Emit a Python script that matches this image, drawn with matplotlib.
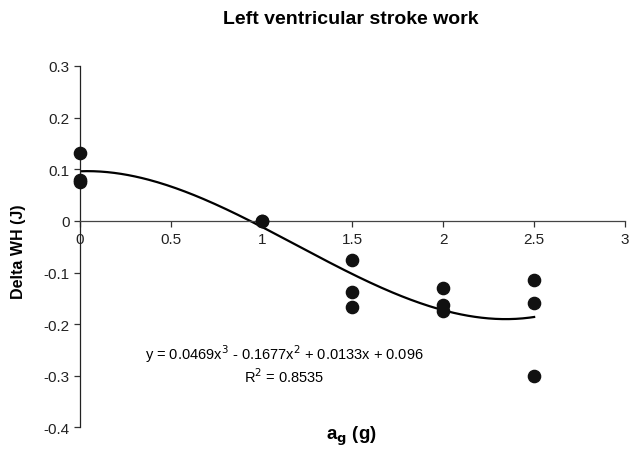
import numpy as np
import matplotlib.pyplot as plt

plt.rcParams['font.family'] = ['Liberation Sans', 'DejaVu Sans']

# measured points
ag = [0, 0, 0, 1, 1, 1.5, 1.5, 1.5, 2, 2, 2, 2.5, 2.5, 2.5]
delta_wh = [0.131, 0.08, 0.075, 0.0, 0.0, -0.075, -0.137, -0.166,
            -0.130, -0.162, -0.174, -0.115, -0.159, -0.300]

# cubic trendline coefficients (highest power first)
coef = [0.0469, -0.1677, 0.0133, 0.096]
r2 = 0.8535

xticks = [0, 0.5, 1, 1.5, 2, 2.5, 3]
xlabels = ['0', '0.5', '1', '1.5', '2', '2.5', '3']
yticks = [-0.4, -0.3, -0.2, -0.1, 0, 0.1, 0.2, 0.3]
ylabels = ['-0.4', '-0.3', '-0.2', '-0.1', '0', '0.1', '0.2', '0.3']

fig = plt.figure(figsize=(6.3, 4.52), dpi=100)
ax = fig.add_axes([0.127, 0.052, 0.865, 0.800])

xs = np.linspace(0, 2.5, 200)
ax.plot(xs, np.polyval(coef, xs), color='black', lw=1.6, zorder=2)
ax.plot(ag, delta_wh, 'o', color='#111111', markersize=8.8, zorder=3, clip_on=False)

ax.set_xlim(0, 3)
ax.set_ylim(-0.4, 0.3)

ax.spines['top'].set_visible(False)
ax.spines['right'].set_visible(False)
ax.spines['bottom'].set_position(('data', 0))
ax.spines['bottom'].set_color('#444444')
ax.spines['left'].set_color('#222222')
ax.spines['bottom'].set_linewidth(0.9)
ax.spines['left'].set_linewidth(0.9)

ax.set_xticks(xticks)
ax.set_xticklabels(xlabels)
ax.set_yticks(yticks)
ax.set_yticklabels(ylabels)
ax.tick_params(axis='both', labelsize=11, length=4, width=0.9, color='#333333', colors='#222222')
ax.tick_params(axis='x', pad=4)

# trendline equation
ax.text(1.123, -0.256, 'y = 0.0469x$^3$ - 0.1677x$^2$ + 0.0133x + 0.096',
        ha='center', va='center', fontsize=10.5)
ax.text(1.123, -0.300, 'R$^2$ = %.4f' % r2, ha='center', va='center', fontsize=10.5)

fig.text(0.556, 0.956, 'Left ventricular stroke work', ha='center', va='center',
         fontsize=14, fontweight='bold')
fig.text(0.029, 0.442, 'Delta WH (J)', ha='center', va='center', rotation=90,
         fontsize=11.5, fontweight='bold')
fig.text(0.557, 0.034, r'a$_\mathbf{g}$ (g)', ha='center', va='center',
         fontsize=13.5, fontweight='bold')

fig.savefig('out.png', dpi=100)
